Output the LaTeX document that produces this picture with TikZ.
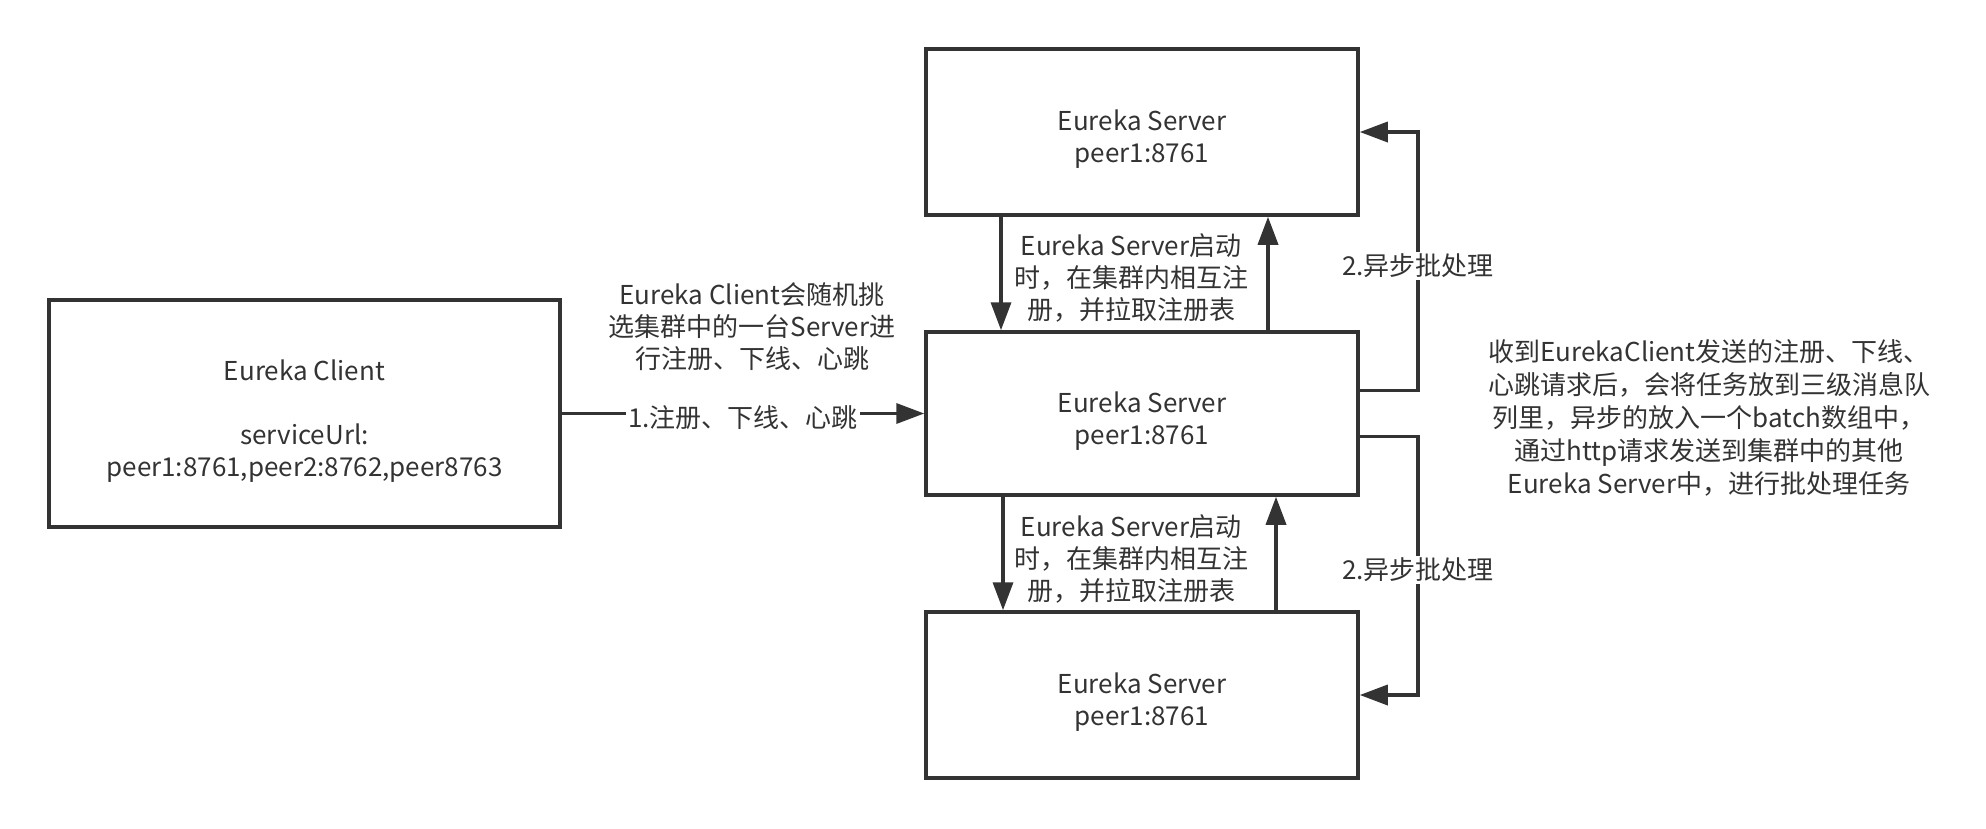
\documentclass[tikz,border=0pt]{standalone}
\usepackage{fontspec}
\setmainfont{Noto Sans CJK SC}
\usepackage{tikz}
\usetikzlibrary{arrows.meta}
\definecolor{ink}{HTML}{333333}
\newcommand{\topgap}{\rule{0pt}{35pt}}

\begin{document}
\begin{tikzpicture}[x=1pt,y=-1pt,
  box/.style={draw=ink,line width=3.5pt,minimum width=432pt,inner sep=0pt,align=center,text=ink,font=\fontsize{26}{32}\selectfont},
  lbl/.style={align=center,text=ink,font=\fontsize{26}{32}\selectfont,inner sep=2pt},
  arr/.style={draw=ink,line width=3.5pt,-{Triangle[length=28pt,width=20pt]}}]
\useasboundingbox (0,0) rectangle (1986,828);
\node[box,minimum width=511pt,minimum height=227pt] (client) at (304.5,413.5) {\topgap Eureka Client\\[32pt]serviceUrl:\\peer1:8761,peer2:8762,peer8763};
\node[box,minimum height=166pt] (srvtop) at (1142,132) {\topgap Eureka Server\\peer1:8761};
\node[box,minimum height=163pt] (srvmid) at (1142,413.5) {\topgap Eureka Server\\peer1:8761};
\node[box,minimum height=166pt] (srvbot) at (1142,695) {\topgap Eureka Server\\peer1:8761};

\coordinate (dn1) at (1001,0);
\coordinate (up1) at (1268,0);
\coordinate (dn2) at (1003,0);
\coordinate (up2) at (1276,0);
\coordinate (loop) at (1418,0);
\coordinate (out1) at ([yshift=23pt]srvmid.east);
\coordinate (out2) at ([yshift=-23pt]srvmid.east);

\draw[arr] (client.east) -- node[lbl,fill=white,yshift=-4pt] (reglbl) {1.注册、下线、心跳} (srvmid.west);
\draw[arr] (srvtop.south -| dn1) -- (srvmid.north -| dn1);
\draw[arr] (srvmid.north -| up1) -- (srvtop.south -| up1);
\draw[arr] (srvmid.south -| dn2) -- (srvbot.north -| dn2);
\draw[arr] (srvbot.north -| up2) -- (srvmid.south -| up2);
% async batch loops
\draw[arr] (out1) -- (out1 -| loop) -- (loop |- srvtop.east) -- (srvtop.east);
\draw[arr] (out2) -- (out2 -| loop) -- (loop |- srvbot.east) -- (srvbot.east);

\node[lbl,fill=white] (async1) at (1418,266) {2.异步批处理};
\node[lbl,fill=white] (async2) at (1418,570) {2.异步批处理};
\node[lbl] (pick) at (752,327) {Eureka Client会随机挑\\选集群中的一台Server进\\行注册、下线、心跳};
\node[lbl] (boot1) at (1131,278) {Eureka Server启动\\时，在集群内相互注\\册，并拉取注册表};
\node[lbl] (boot2) at (1131,559) {Eureka Server启动\\时，在集群内相互注\\册，并拉取注册表};
\node[lbl,font=\fontsize{26}{33}\selectfont] (note) at (1709,418) {收到EurekaClient发送的注册、下线、\\心跳请求后，会将任务放到三级消息队\\列里，异步的放入一个batch数组中，\\通过http请求发送到集群中的其他\\Eureka Server中，进行批处理任务};
\end{tikzpicture}
\end{document}
